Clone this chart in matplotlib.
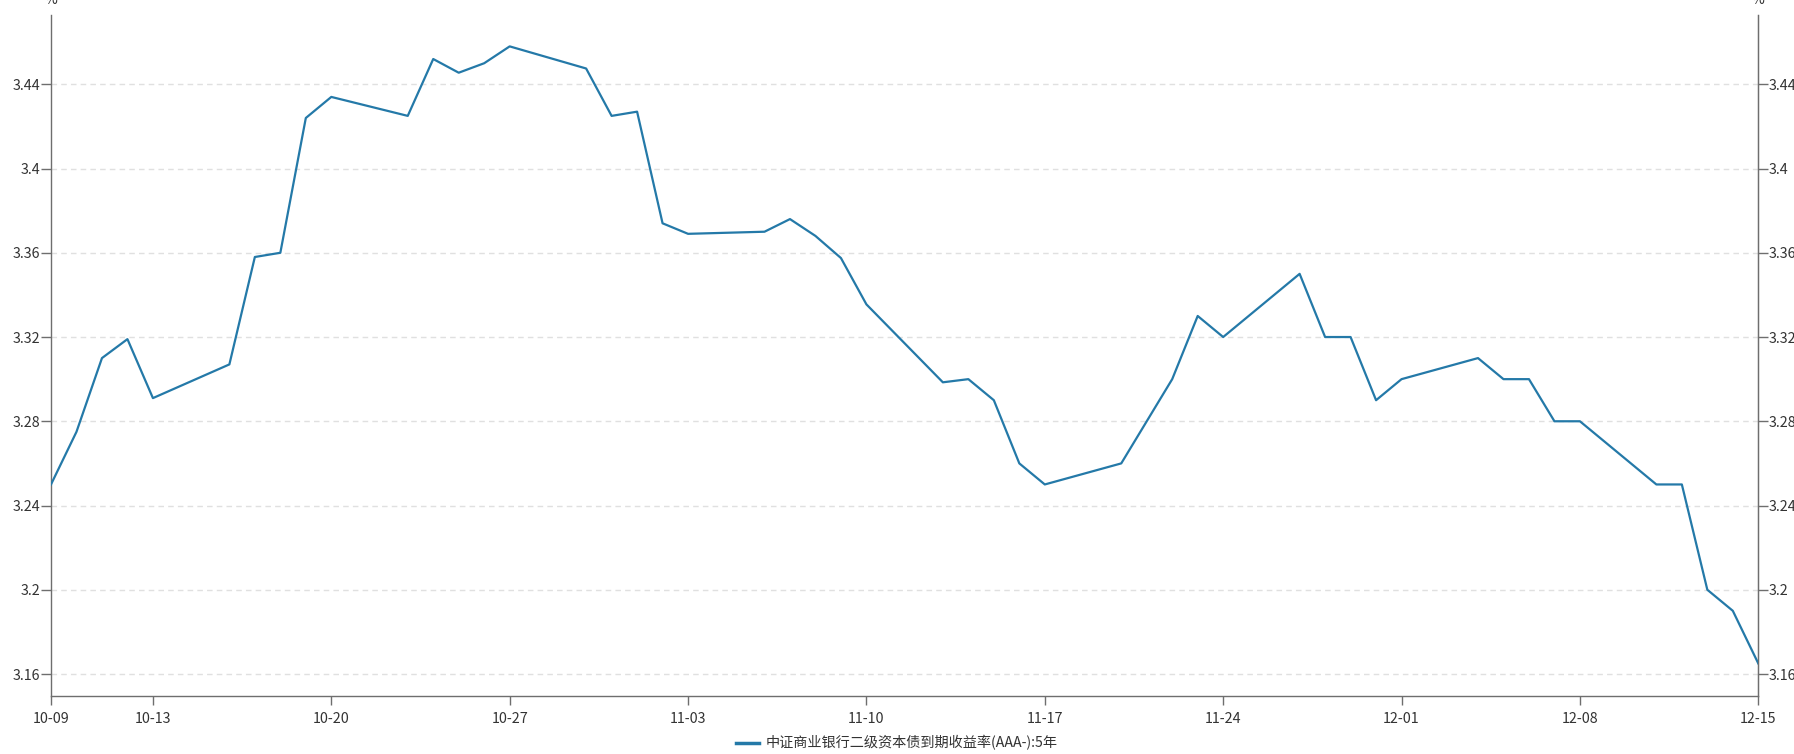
import matplotlib
matplotlib.use("Agg")
import matplotlib.pyplot as plt
import matplotlib.dates as mdates
import pandas as pd
from matplotlib.ticker import FuncFormatter, FixedLocator

plt.rcParams['font.family'] = ['Noto Sans CJK SC', 'DejaVu Sans']

dates = ["10-09", "10-10", "10-11", "10-12", "10-13", "10-16", "10-17", "10-18", "10-19", "10-20",
         "10-23", "10-24", "10-25", "10-26", "10-27", "10-30", "10-31", "11-01", "11-02", "11-03",
         "11-06", "11-07", "11-08", "11-09", "11-10", "11-13", "11-14", "11-15", "11-16", "11-17",
         "11-20", "11-22", "11-23", "11-24", "11-27", "11-28", "11-29", "11-30", "12-01",
         "12-04", "12-05", "12-06", "12-07", "12-08", "12-11", "12-12", "12-13", "12-14", "12-15"]
values = [3.25, 3.275, 3.31, 3.319, 3.291, 3.307, 3.358, 3.360, 3.424, 3.434,
          3.425, 3.452, 3.4455, 3.450, 3.458, 3.4475, 3.425, 3.427, 3.374, 3.369,
          3.370, 3.376, 3.368, 3.3575, 3.3355, 3.2985, 3.300, 3.290, 3.260, 3.250,
          3.260, 3.300, 3.330, 3.320, 3.350, 3.320, 3.320, 3.290, 3.300,
          3.310, 3.300, 3.300, 3.280, 3.280, 3.250, 3.250, 3.200, 3.190, 3.165]
x_ticks = ["10-09", "10-13", "10-20", "10-27", "11-03", "11-10", "11-17", "11-24", "12-01", "12-08", "12-15"]
y_ticks = [3.16, 3.2, 3.24, 3.28, 3.32, 3.36, 3.4, 3.44]
series_name = "中证商业银行二级资本债到期收益率(AAA-):5年"
year = 2023

to_dt = lambda s: pd.Timestamp(f"{year}-{s}")
xs = [to_dt(d) for d in dates]
xt = [mdates.date2num(to_dt(d)) for d in x_ticks]

W, H = 1794, 754
fig = plt.figure(figsize=(W / 100, H / 100), dpi=100)
left, right = 51 / W, 1758.3 / W
bottom, top = 1 - 695.7 / H, 1 - 15 / H
ax = fig.add_axes([left, bottom, right - left, top - bottom])

line_color = '#2479a8'
axis_color = '#6e6e6e'
text_color = '#333333'

ax.plot(xs, values, color=line_color, lw=1.6, label=series_name, zorder=3)
ax.set_xlim(xt[0], xt[-1])
ax.set_ylim(3.1497, 3.4729)

ax.xaxis.set_major_locator(FixedLocator(xt))
ax.xaxis.set_major_formatter(FuncFormatter(lambda v, p: mdates.num2date(v).strftime("%m-%d")))
fmt = FuncFormatter(lambda v, p: ('%.2f' % v).rstrip('0').rstrip('.'))
ax.yaxis.set_major_locator(FixedLocator(y_ticks))
ax.yaxis.set_major_formatter(fmt)

ax.grid(axis='y', color='#e0e0e0', linestyle=(0, (4, 3)), lw=1.0)
ax.spines['top'].set_visible(False)
for s in ['left', 'bottom', 'right']:
    ax.spines[s].set_color(axis_color)
    ax.spines[s].set_linewidth(1.0)

ax.tick_params(axis='x', length=6.5, width=1, color=axis_color, labelcolor=text_color, labelsize=10.3, pad=5)
ax.tick_params(axis='y', length=7.5, width=1, color=axis_color, labelcolor=text_color, labelsize=10.3, pad=0)

ax2 = ax.twinx()
ax2.set_ylim(ax.get_ylim())
ax2.yaxis.set_major_locator(FixedLocator(y_ticks))
ax2.yaxis.set_major_formatter(fmt)
ax2.tick_params(axis='y', length=7.5, width=1, color=axis_color, labelcolor=text_color, labelsize=10.3, pad=0)
for s in ['top', 'left', 'bottom']:
    ax2.spines[s].set_visible(False)
ax2.spines['right'].set_color(axis_color)

# unit labels (cut at top edge, as in the reference)
fig.text(left, 1 - 3.5 / H, '%', ha='center', va='baseline', fontsize=10, color=text_color)
fig.text(right, 1 - 3.5 / H, '%', ha='center', va='baseline', fontsize=10, color=text_color)

leg = fig.legend(loc='center', bbox_to_anchor=(0.5, 1 - 743 / H), frameon=False,
                 fontsize=10.2, handlelength=1.6, handletextpad=0.5, labelcolor=text_color)
for l in leg.get_lines():
    l.set_linewidth(2.5)

fig.savefig('out.png', dpi=100)
